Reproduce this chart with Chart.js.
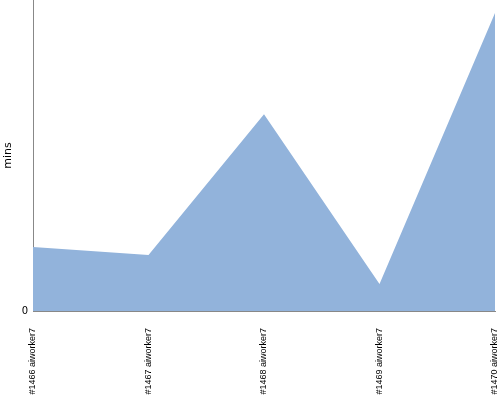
<!DOCTYPE html>
<html>
<head>
<meta charset="utf-8">
<script src="https://cdn.jsdelivr.net/npm/chart.js@4"></script>
<style>
  html, body { margin: 0; padding: 0; background: #fff; }
  #wrap { width: 500px; height: 400px; }
</style>
</head>
<body>
<div id="wrap"><canvas id="myChart"></canvas></div>
<script>
const builds = ['#1466 aiworker7', '#1467 aiworker7', '#1468 aiworker7', '#1469 aiworker7', '#1470 aiworker7'];
const minutes = [20.6, 18.0, 63.3, 8.7, 95.8];
const yMax = 100;

(() => {
  const ctx = document.getElementById('myChart');
  Chart.defaults.font.family = '"Liberation Sans", "DejaVu Sans", sans-serif';
  const noEdgePadding = axis => {
    axis.paddingTop = 0;
    axis.paddingRight = 0;
    axis.paddingLeft = 0;
  };
  const chart = new Chart(ctx, {
    type: 'line',
    data: {
      labels: builds,
      datasets: [{
        data: minutes,
        fill: 'origin',
        backgroundColor: '#92b3db',
        borderWidth: 0,
        pointRadius: 0,
        tension: 0
      }]
    },
    options: {
      responsive: true,
      maintainAspectRatio: false,
      animation: false,
      layout: { padding: { top: 0, right: 5, left: 0, bottom: 0 } },
      plugins: { legend: { display: false }, tooltip: { enabled: false } },
      scales: {
        x: {
          offset: false,
          grid: { display: false, drawTicks: false },
          border: { color: '#888' },
          afterFit: axis => { noEdgePadding(axis); axis.height = 89; },
          ticks: { minRotation: 90, maxRotation: 90, color: '#000', font: { size: 9 }, padding: 17 }
        },
        y: {
          min: 0,
          max: yMax,
          grid: { display: false, drawTicks: false },
          border: { color: '#888' },
          afterFit: axis => { noEdgePadding(axis); axis.width = 33; },
          afterBuildTicks: axis => { axis.ticks = [{ value: 0 }]; },
          ticks: { color: '#000', font: { family: '"DejaVu Sans"', size: 10 }, padding: 5 },
          title: { display: true, text: 'mins', color: '#000', font: { family: '"DejaVu Sans"', size: 11 }, padding: 2 }
        }
      }
    }
  });
})();
</script>
</body>
</html>
